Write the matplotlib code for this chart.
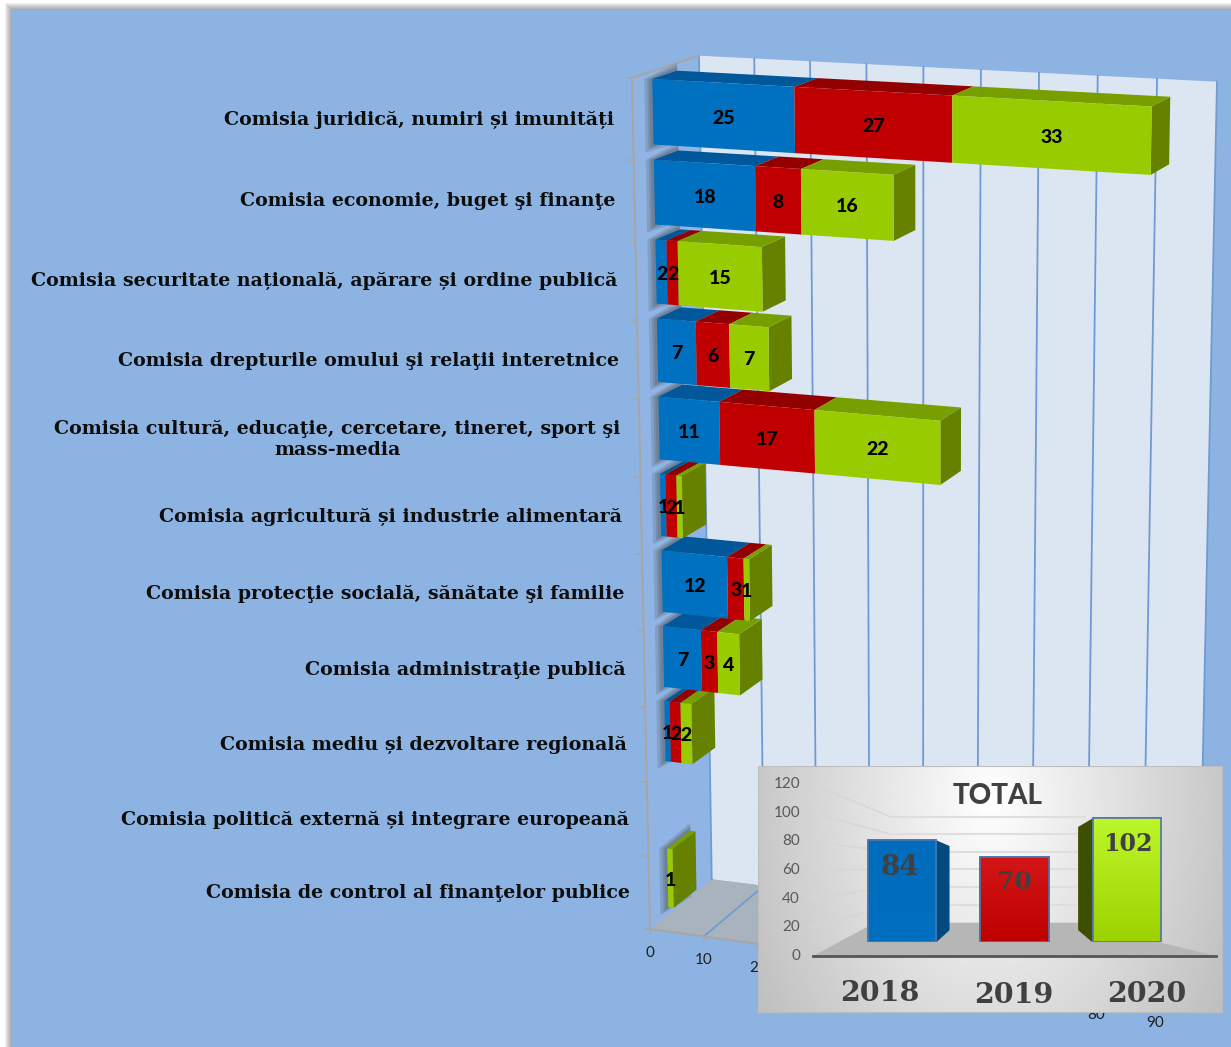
import numpy as np
import matplotlib
matplotlib.use('Agg')
import matplotlib.pyplot as plt
from matplotlib.patches import Polygon, Rectangle

categories = ['Comisia juridică, numiri și imunități',
              'Comisia economie, buget şi finanţe',
              'Comisia securitate națională, apărare și ordine publică',
              'Comisia drepturile omului şi relaţii interetnice',
              'Comisia cultură, educaţie, cercetare, tineret, sport şi\nmass-media',
              'Comisia agricultură și industrie alimentară',
              'Comisia protecţie socială, sănătate şi familie',
              'Comisia administraţie publică',
              'Comisia mediu și dezvoltare regională',
              'Comisia politică externă și integrare europeană',
              'Comisia de control al finanţelor publice']
v2018 = [25, 18, 2, 7, 11, 1, 12, 7, 1, 0, 0]
v2019 = [27, 8, 2, 6, 17, 2, 3, 3, 2, 0, 0]
v2020 = [33, 16, 15, 7, 22, 1, 1, 4, 2, 0, 1]
x_ticks = [0, 10, 20, 30, 40, 50, 60, 70, 80, 90]
# the others sit completely behind the TOTAL panel
x_labels = [0, 10, 20, 80, 90]

years = ['2018', '2019', '2020']
totals = [84, 70, 102]
total_ticks = [0, 20, 40, 60, 80, 100, 120]

BG = '#8db3e2'
FRONT = ['#0070c0', '#c00000', '#99cc00']
TOP = ['#00589a', '#930000', '#789f00']
SIDE = '#668000'
GRID = '#6f9bd3'
AXIS = '#a6a6a6'
SERIF = 'DejaVu Serif'
SANS = 'Lato'


def homography(src, dst):
    a, b = [], []
    for (x, y), (X, Y) in zip(src, dst):
        a.append([x, y, 1, 0, 0, 0, -X * x, -X * y])
        a.append([0, 0, 0, x, y, 1, -Y * x, -Y * y])
        b += [X, Y]
    return np.append(np.linalg.solve(np.array(a, float), np.array(b, float)), 1).reshape(3, 3)


corners = [(0, 0), (90, 0), (0, 11), (90, 11)]
H_front = homography(corners, [(632, 78), (1168, 108), (650, 929), (1155, 999)])
H_back = homography(corners, [(699, 55.7), (1217, 81.7), (711.7, 879.3), (1199, 940)])


def project(v, u, d=0.0):
    # v = value, u = row position from the top, d = depth 0 (front) to 1 (back)
    p = np.array([v, u, 1.0])
    f = H_front @ p
    b = H_back @ p
    return (1 - d) * f[:2] / f[2] + d * b[:2] / b[2]


fig = plt.figure(figsize=(12.31, 10.47), dpi=100, facecolor='white')
ax = fig.add_axes([0, 0, 1, 1])
ax.set_xlim(0, 1231)
ax.set_ylim(1047, 0)
ax.axis('off')


def poly(target, pts, color, z=2, **kw):
    target.add_patch(Polygon(pts, closed=True, facecolor=color, edgecolor=kw.pop('ec', 'none'), zorder=z, **kw))


# page and its shadow
for i in range(8):
    ax.add_patch(Rectangle((12 - i, 10 - i), 1300, 1100, facecolor='#444444', alpha=0.08, edgecolor='none', zorder=0))
ax.add_patch(Rectangle((12, 10), 1300, 1100, facecolor=BG, edgecolor='none', zorder=1))

# back wall, floor, left wall
poly(ax, [project(0, 0, 1), project(90, 0, 1), project(90, 11, 1), project(0, 11, 1)], '#dce6f2', 1.5)
poly(ax, [project(0, 11, 0), project(0, 11, 1), project(90, 11, 1), project(90, 11, 0)], '#a9b3bd', 1.6)
poly(ax, [project(0, 0, 0), project(0, 0, 1), project(0, 11, 1), project(0, 11, 0)], '#90b5e4', 1.7)

for t in x_ticks:
    wall = np.array([project(t, 0, 1), project(t, 11, 1)])
    ax.plot(wall[:, 0], wall[:, 1], color=GRID, lw=1.3, zorder=1.8)
    floor = np.array([project(t, 11, 1), project(t, 11, 0)])
    if t > 0:
        ax.plot(floor[:, 0], floor[:, 1], color=GRID, lw=1.3, zorder=1.8)
    p = project(t, 11, 0)
    ax.plot([p[0], p[0]], [p[1], p[1] + 5], color=AXIS, lw=1.2, zorder=1.9)
    if t in x_labels:
        ax.text(p[0], p[1] + 24, str(t), ha='center', va='center', family=SANS, fontsize=11, color='#1f1f1f', zorder=1.9)

# axis lines
edge = np.array([project(0, 0, 1), project(0, 0, 0), project(0, 11, 0), project(90, 11, 0)])
ax.plot(edge[:, 0], edge[:, 1], color=AXIS, lw=1.5, zorder=1.9)
for r in range(12):
    p = project(0, r, 0)
    ax.plot([p[0] - 5, p[0]], [p[1], p[1]], color=AXIS, lw=1.2, zorder=1.9)

GAP = 0.095
D0, D1 = 0.30, 0.67
rows = list(zip(v2018, v2019, v2020))

# rows are painted from the bottom up, the upper ones sit in front
for r in range(len(rows) - 1, -1, -1):
    u0, u1 = r + GAP, r + 1 - GAP
    left = 0
    vals = rows[r]
    end = sum(vals)
    if end == 0:
        continue
    # soft shadow on the left wall
    for g in (8, 5, 3):
        a = project(0, u0, D0) + (-g, 0)
        b = project(0, u1, D0) + (-g, g)
        c = project(0, u1, D1) + (0, g)
        e = project(0, u0, D1) + (0, -g)
        poly(ax, [a, b, c, e], '#4a4a4a', 2 + (10 - r) * 0.1, alpha=0.2)
    z = 3 + (10 - r)
    poly(ax, [project(end, u0, D0), project(end, u0, D1), project(end, u1, D1), project(end, u1, D0)], SIDE, z)
    for i, val in enumerate(vals):
        if val == 0:
            continue
        right = left + val
        poly(ax, [project(left, u0, D0), project(left, u0, D1), project(right, u0, D1), project(right, u0, D0)], TOP[i], z)
        poly(ax, [project(left, u0, D0), project(right, u0, D0), project(right, u1, D0), project(left, u1, D0)], FRONT[i], z + 0.1)
        c = (project(left, u0, D0) + project(right, u1, D0)) / 2
        ax.text(c[0], c[1] + 2, str(val), ha='center', va='center', family=SANS, fontweight=900, fontsize=14,
                color='black', zorder=20)
        left = right

for r, name in enumerate(categories):
    p = project(0, r + 0.5, 0)
    ax.text(p[0] - 19, p[1] + 1, name, ha='right', va='center', multialignment='center', family=SERIF,
            fontweight='bold', fontsize=13.7, color='#0d0d0d', linespacing=1.2, zorder=21)

# TOTAL panel
PX0, PX1, PY0, PY1 = 758, 1223, 766, 1013
panel = fig.add_axes([PX0 / 1231, 1 - PY1 / 1047, (PX1 - PX0) / 1231, (PY1 - PY0) / 1047], zorder=2)
panel.set_xlim(PX0, PX1)
panel.set_ylim(PY1, PY0)
panel.axis('off')
X, Y = np.meshgrid(np.linspace(PX0, PX1, 230), np.linspace(PY0, PY1, 125))
r_grad = np.sqrt(((X - 990) / 270) ** 2 + ((Y - 800) / 400) ** 2)
panel.imshow(1 - 0.25 * np.clip(r_grad, 0, 1.0), cmap='gray', vmin=0, vmax=1, extent=[PX0, PX1, PY1, PY0], aspect='auto', zorder=0)
panel.add_patch(Rectangle((PX0, PY0), PX1 - PX0, PY1 - PY0, fill=False, edgecolor='#bdbdbd', lw=1.5, zorder=1))

back_y = [922.7, 905, 887, 869, 851.7, 834, 816.7]
for t, by in zip(total_ticks, back_y):
    ty = 956 - 1.433 * t
    panel.text(800, ty, str(t), ha='right', va='center', family=SANS, fontsize=11, color='#595959', zorder=2)
    if t > 0:
        panel.plot([812, 890], [ty, by], color='#d6d6d6', lw=1.0, zorder=1)
        panel.plot([890, 1085], [by, by], color='#dedede', lw=1.5, zorder=1)

poly(panel, [(813, 956), (875, 922.7), (1078, 922.7), (1216, 956)], '#b6b6b6', 1.5)
panel.plot([813, 1216], [956, 956], color='#555555', lw=2, zorder=2)
panel.text(998, 796, 'TOTAL', ha='center', va='center', family=SANS, fontweight=900, fontsize=20, color='#404040', zorder=3)
for name, xc, yc in zip(years, [880, 1014, 1147], [993, 995, 994]):
    panel.text(xc, yc, name, ha='center', va='center', family=SERIF, fontweight='bold', fontsize=20.5, color='#404040', zorder=3)

bars = fig.add_axes([PX0 / 1231, 1 - 942.3 / 1047, (PX1 - PX0) / 1231, 145.7 / 1047], zorder=3)
bars.patch.set_alpha(0)
bars.axis('off')
XL, XR = -1.281, 2.856
WIDTH = 0.61
rects = bars.bar(range(3), totals, width=WIDTH, color=FRONT, edgecolor='#4f75ad', lw=1.2, zorder=3)
grad_tops = ['#006cbb', '#d41616', '#bdf629']
grad_bots = ['#0070c0', '#bd0000', '#9dd200']
for rect, top, bot in zip(rects, grad_tops, grad_bots):
    ct = np.array(matplotlib.colors.to_rgb(top))
    cb = np.array(matplotlib.colors.to_rgb(bot))
    g = np.linspace(0, 1, 64)[:, None, None] * (cb - ct) + ct
    x0 = rect.get_x()
    im = bars.imshow(g, extent=[x0, x0 + WIDTH, 0, rect.get_height()], origin='upper', aspect='auto', zorder=3.5)
    im.set_clip_path(rect)
    bars.add_patch(Rectangle((x0, 0), WIDTH, rect.get_height(), fill=False, edgecolor='#4f75ad', lw=1.2, zorder=4))
right = 0 + WIDTH / 2
poly(bars, [(right, totals[0]), (right + 0.118, totals[0] - 4.7), (right + 0.118, 10), (right, 0)], '#004a80', 2)
left2 = 2 - WIDTH / 2
poly(bars, [(left2, totals[2]), (left2 - 0.128, totals[2] - 7), (left2 - 0.128, 10), (left2, 0)], '#3f4f00', 2)
bars.set_xlim(XL, XR)
bars.set_ylim(0, 120)
for i, (val, dx, yc, fs) in enumerate(zip(totals, [-0.02, 0, 0.01], [62, 50, 81], [20, 18, 17])):
    bars.text(i + dx, yc, str(val), ha='center', va='center', family=SERIF, fontweight='bold', fontsize=fs, color='#404040', zorder=5)

fig.savefig('out.png', dpi=100)
